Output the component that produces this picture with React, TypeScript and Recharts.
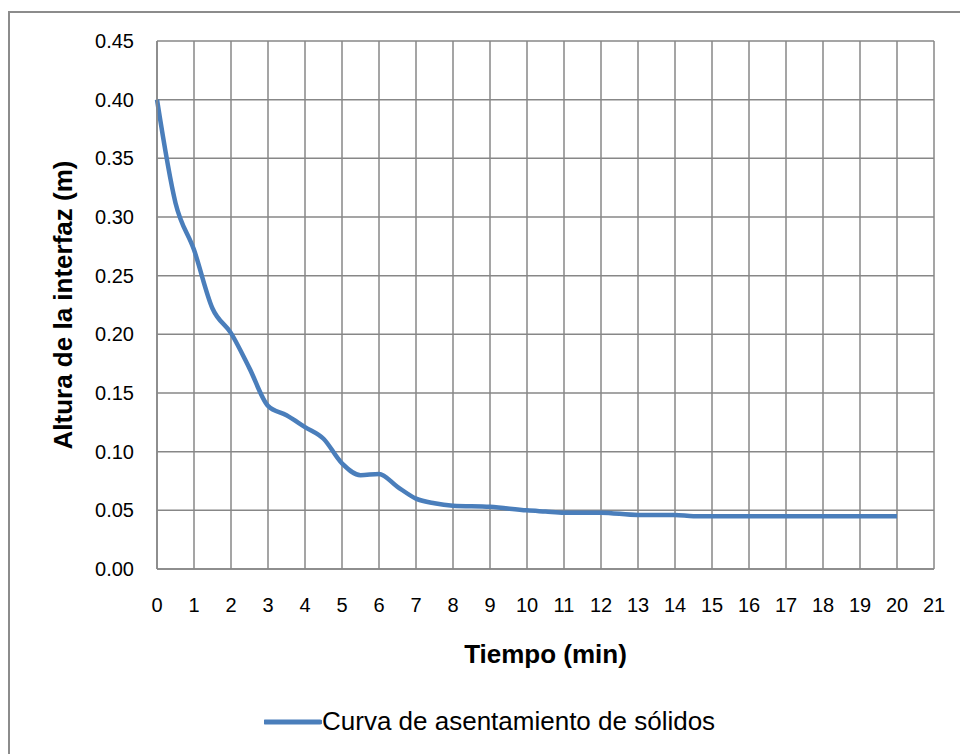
import { LineChart, Line, XAxis, YAxis, CartesianGrid, Legend } from 'recharts';

// Tiempo (min) y altura de la interfaz (m)
const tiempo = [0, 0.5, 1, 1.5, 2, 2.5, 3, 3.5, 4, 4.5, 5, 5.5, 6, 6.5, 7, 7.5, 8, 9, 10, 10.5, 11, 12, 13, 14, 14.5, 15, 16, 17, 18, 19, 20];
const altura = [0.4, 0.312, 0.272, 0.222, 0.201, 0.171, 0.139, 0.131, 0.121, 0.111, 0.09, 0.08, 0.081, 0.07, 0.06, 0.056, 0.054, 0.053, 0.05, 0.049, 0.048, 0.048, 0.046, 0.046, 0.045, 0.045, 0.045, 0.045, 0.045, 0.045, 0.045];

const xTicks = Array.from({ length: 22 }, (_, i) => i);
const yTicks = [0, 0.05, 0.1, 0.15, 0.2, 0.25, 0.3, 0.35, 0.4, 0.45];

const SERIES_NAME = 'Curva de asentamiento de sólidos';
const LINE_COLOR = '#4a7ebb';
const GRID_COLOR = '#878787';
const FONT = '"Liberation Sans", Arial, sans-serif';

const data = tiempo.map((t, i) => ({ t, h: altura[i] }));

const LegendContent = () => (
  <div style={{ display: 'flex', alignItems: 'center', fontFamily: FONT, fontSize: 26, color: '#000', whiteSpace: 'nowrap' }}>
    <svg width={58} height={8}>
      <line x1={1} y1={4} x2={56} y2={4} stroke={LINE_COLOR} strokeWidth={5} strokeLinecap="round" />
    </svg>
    <span>{SERIES_NAME}</span>
  </div>
);

export default function App() {
  return (
    <div style={{ position: 'absolute', left: 0, top: 0, width: 960, height: 754, overflow: 'hidden', background: '#fff' }}>
      <div style={{ position: 'absolute', left: 8, top: 11, width: 1000, height: 800, border: '2px solid #8c8c8c' }} />
      <div style={{ position: 'absolute', left: 0, top: 0 }}>
        <LineChart width={960} height={754} data={data} margin={{ top: 41, right: 26, bottom: 85, left: 0 }}>
          <CartesianGrid stroke={GRID_COLOR} strokeWidth={1.5} />
          <XAxis
            dataKey="t"
            type="number"
            domain={[0, 21]}
            ticks={xTicks}
            interval={0}
            height={100}
            tickLine={false}
            tickMargin={23}
            axisLine={{ stroke: GRID_COLOR, strokeWidth: 1.5 }}
            tick={{ fill: '#000', fontSize: 20, fontFamily: FONT }}
            label={{ value: 'Tiempo (min)', position: 'center', dy: 35, fill: '#000', fontSize: 26, fontWeight: 'bold', fontFamily: FONT }}
          />
          <YAxis
            type="number"
            domain={[0, 0.45]}
            ticks={yTicks}
            interval={0}
            width={157}
            tickLine={false}
            tickMargin={17}
            axisLine={{ stroke: GRID_COLOR, strokeWidth: 1.5 }}
            tickFormatter={(v: number) => v.toFixed(2)}
            tick={{ fill: '#000', fontSize: 20, fontFamily: FONT }}
            label={{ value: 'Altura de la interfaz (m)', angle: -90, position: 'center', dx: -16, fill: '#000', fontSize: 26, fontWeight: 'bold', fontFamily: FONT }}
          />
          <Legend verticalAlign="middle" wrapperStyle={{ top: 706, left: 264, width: 'auto' }} content={() => <LegendContent />} />
          <Line
            type="monotone"
            dataKey="h"
            name={SERIES_NAME}
            stroke={LINE_COLOR}
            strokeWidth={4.5}
            dot={false}
            isAnimationActive={false}
          />
        </LineChart>
      </div>
    </div>
  );
}
